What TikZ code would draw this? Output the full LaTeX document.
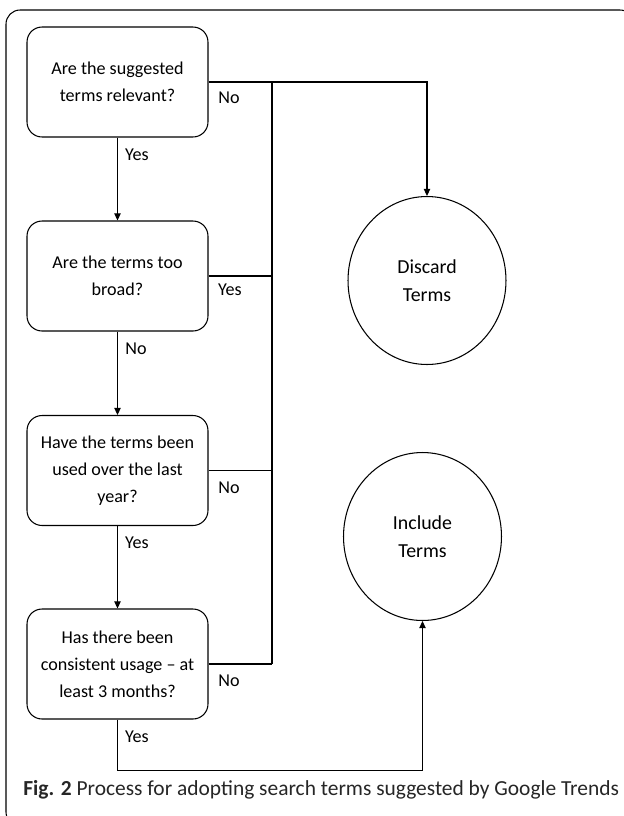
\documentclass[tikz,border=0pt]{standalone}
\usepackage{fontspec}
\setmainfont{Carlito}
\usetikzlibrary{arrows.meta,shapes.geometric}

\begin{document}
\begin{tikzpicture}[x=0.02cm, y=-0.02cm, line width=0.6pt,
    question/.style = {draw, rounded corners=0.3cm, minimum width=3.62cm, minimum height=2.2cm,
                       align=center, font=\fontsize{10.3}{15.4}\selectfont},
    outcome/.style = {draw, shape = ellipse, minimum width=3.16cm, minimum height=3.36cm, inner sep=0pt,
                      align=center, font=\fontsize{11.3}{16}\selectfont},
    answer/.style = {font=\fontsize{10.3}{12}\selectfont},
    flow/.style = {-{Triangle[length=4pt,width=3.6pt]}}]
    \useasboundingbox (0,0) rectangle (624,816);
    \clip (0,0) rectangle (624,816);
    \draw [rounded corners=8pt] (6,10) rectangle (634,826);

    \node [question] (q1) at (117.5,82) {Are the suggested\\terms relevant?};
    \node [question] (q2) at (117.5,276) {Are the terms too\\broad?};
    \node [question] (q3) at (117.5,470.5) {Have the terms been\\used over the last\\year?};
    \node [question] (q4) at (117.5,664) {Has there been\\consistent usage -- at\\least 3 months?};
    \node [outcome] (discard) at (427,280.5) {Discard\\Terms};
    \node [outcome] (include) at (422.5,536.5) {Include\\Terms};
    \coordinate (bus) at (272,0);

    \node [answer] (y1) at (137,155) {Yes};
    \node [answer] (n1) at (229,98) {No};
    \node [answer] (y2) at (230,290) {Yes};
    \node [answer] (n2) at (136,349) {No};
    \node [answer] (n3) at (229,488) {No};
    \node [answer] (y3) at (137,543) {Yes};
    \node [answer] (n4) at (229,681) {No};
    \node [answer] (y4) at (137,737) {Yes};

    \draw [flow] (q1) to (q2);
    \draw [flow] (q2) to (q3);
    \draw [flow] (q3) to (q4);
    \draw [flow] (q1.east) -| (discard.north);
    \draw (q1.east -| bus) to (q4.east -| bus);
    \draw (q2.east) to (q2.east -| bus);
    \draw (q3.east) to (q3.east -| bus);
    \draw (q4.east) to (q4.east -| bus);
    \draw [flow] (q4.south) -- ++(0,51) -| (include.south);

    \node [anchor=west, text=black!85, font=\fontsize{12.2}{14}\selectfont] (caption) at (17,790)
        {\textbf{Fig. 2} Process for adopting search terms suggested by Google Trends};
\end{tikzpicture}
\end{document}
